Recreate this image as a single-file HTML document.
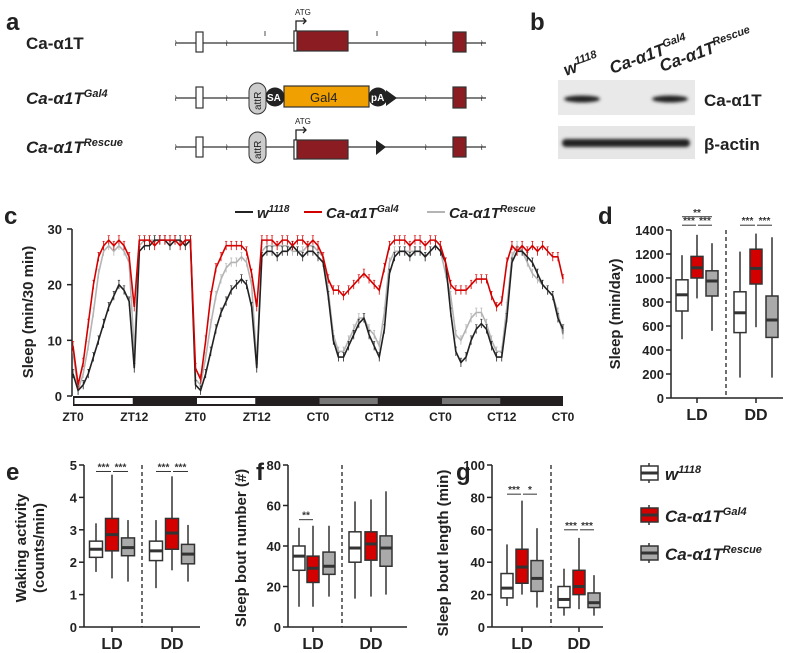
<!DOCTYPE html>
<html><head><meta charset="utf-8">
<style>
html,body{margin:0;padding:0;background:#fff;}
svg{display:block;font-family:"Liberation Sans",Arial,sans-serif;}
.b{font-weight:bold;}
</style></head>
<body>
<svg id="fig" width="787" height="653" viewBox="0 0 787 653" xmlns="http://www.w3.org/2000/svg">
<g class="b" font-size="24" fill="#222">
<text x="6" y="30">a</text>
<text x="530" y="30">b</text>
<text x="4" y="224">c</text>
<text x="598" y="224">d</text>
<text x="6" y="480">e</text>
<text x="256" y="480">f</text>
<text x="456" y="480">g</text>
</g>

<g>
<g class="b" font-size="17" fill="#222">
<text x="26" y="49">Ca-α1T</text>
<text x="26" y="104" font-style="italic">Ca-α1T<tspan font-size="11" dy="-7">Gal4</tspan></text>
<text x="26" y="153" font-style="italic">Ca-α1T<tspan font-size="11" dy="-7">Rescue</tspan></text>
</g>
<g stroke="#333" stroke-width="1.3" fill="none">
<line x1="176" y1="43" x2="486" y2="43"/><line x1="176" y1="98" x2="486" y2="98"/><line x1="176" y1="147" x2="486" y2="147"/>
</g>
<g font-size="9" fill="#333">
<text x="174" y="46">≀</text><text x="225" y="46">≀</text><text x="424" y="46">≀</text><text x="480" y="46">≀</text>
<text x="174" y="101">≀</text><text x="225" y="101">≀</text><text x="424" y="101">≀</text><text x="480" y="101">≀</text>
<text x="174" y="150">≀</text><text x="225" y="150">≀</text><text x="424" y="150">≀</text><text x="480" y="150">≀</text>
</g>
<g stroke="#333" stroke-width="1.2">
<rect x="196" y="32" width="7" height="20" fill="#fff"/>
<rect x="196" y="87" width="7" height="21" fill="#fff"/>
<rect x="196" y="137" width="7" height="20" fill="#fff"/>
<rect x="294" y="31" width="54" height="20" fill="#8b1c22"/>
<rect x="294" y="31" width="3" height="20" fill="#fff"/>
<rect x="294" y="140" width="54" height="19" fill="#8b1c22"/>
<rect x="294" y="140" width="3" height="19" fill="#fff"/>
<rect x="453" y="32" width="13" height="20" fill="#8b1c22"/>
<rect x="453" y="87" width="13" height="21" fill="#8b1c22"/>
<rect x="453" y="137" width="13" height="20" fill="#8b1c22"/>
<rect x="284" y="86" width="85" height="21" fill="#f0a000"/>
</g>
<rect x="249" y="83" width="17" height="31" rx="8.5" fill="#ccc" stroke="#333" stroke-width="1"/>
<rect x="249" y="132" width="17" height="31" rx="8.5" fill="#ccc" stroke="#333" stroke-width="1"/>
<text transform="translate(261,110) rotate(-90)" font-size="10" fill="#222">attR</text>
<text transform="translate(261,159) rotate(-90)" font-size="10" fill="#222">attR</text>
<circle cx="275" cy="97" r="9.5" fill="#222"/>
<text x="267" y="101" font-size="10" class="b" fill="#fff">SA</text>
<circle cx="378" cy="97" r="9.5" fill="#222"/>
<text x="371" y="101" font-size="10" class="b" fill="#fff">pA</text>
<polygon points="386,90 397,98 386,106" fill="#222"/>
<polygon points="376,140 386,147 376,155" fill="#222"/>
<text x="310" y="102" font-size="13" fill="#222">Gal4</text>
<g stroke="#222" stroke-width="1.3" fill="none">
<polyline points="296,31 296,21 306,21"/><polyline points="303,18 306,21 303,24"/>
<polyline points="296,140 296,130 306,130"/><polyline points="303,127 306,130 303,133"/>
<line x1="265" y1="31" x2="265" y2="36" stroke-width="0.8"/><line x1="377" y1="31" x2="377" y2="36" stroke-width="0.8"/>
</g>
<text x="295" y="15" font-size="8" fill="#222">ATG</text>
<text x="295" y="124" font-size="8" fill="#222">ATG</text>
</g>

<g>
<defs>
<filter id="blur1"><feGaussianBlur stdDeviation="1.6"/></filter>
</defs>
<rect x="558" y="80" width="137" height="35" fill="#e9e9e9"/>
<rect x="558" y="126" width="137" height="33" fill="#e6e6e6"/>
<g filter="url(#blur1)" fill="#222">
<ellipse cx="582" cy="99" rx="18" ry="3.5"/>
<ellipse cx="670" cy="99" rx="18" ry="3.5"/>
<rect x="562" y="139" width="128" height="8" rx="4"/>
</g>
<g class="b" font-size="17" fill="#222">
<text x="704" y="106">Ca-α1T</text>
<text x="704" y="150">β-actin</text>
</g>
<g class="b" font-style="italic" font-size="17" fill="#222">
<text transform="translate(566,76) rotate(-20)">w<tspan font-size="11" dy="-7">1118</tspan></text>
<text transform="translate(612,74) rotate(-20)">Ca-α1T<tspan font-size="11" dy="-7">Gal4</tspan></text>
<text transform="translate(662,72) rotate(-20)">Ca-α1T<tspan font-size="11" dy="-7">Rescue</tspan></text>
</g>
</g>

<g id="chartC"></g>
<g id="boxes"></g>

<g>
<g stroke="#333" stroke-width="1.5">
<line x1="649" y1="463" x2="649" y2="483"/><rect x="641" y="466" width="17" height="14" fill="#fff"/><line x1="641" y1="473" x2="658" y2="473" stroke-width="3"/>
<line x1="649" y1="505" x2="649" y2="525"/><rect x="641" y="508" width="17" height="14" fill="#d40000"/><line x1="641" y1="515" x2="658" y2="515" stroke-width="3"/>
<line x1="649" y1="543" x2="649" y2="563"/><rect x="641" y="546" width="17" height="14" fill="#aaa"/><line x1="641" y1="553" x2="658" y2="553" stroke-width="3"/>
</g>
<g class="b" font-style="italic" font-size="17" fill="#222">
<text x="665" y="480">w<tspan font-size="11" dy="-7">1118</tspan></text>
<text x="665" y="522">Ca-α1T<tspan font-size="11" dy="-7">Gal4</tspan></text>
<text x="665" y="560">Ca-α1T<tspan font-size="11" dy="-7">Rescue</tspan></text>
</g>
</g>
</svg>

<script>
const ticksC = [0, 10, 20, 30];
const xLabelsC = ["ZT0","ZT12","ZT0","ZT12","CT0","CT12","CT0","CT12","CT0"];
const sleepW1118 = [4,1,2,4,7,10,13,16,18,20,19,17,5,26,27,27,28,28,28,27,28,28,27,28,
 2,1,4,8,12,15,17,19,20,21,20,16,5,25,26,26,25,26,26,27,26,25,26,26,
 25,24,18,10,7,7,9,11,13,14,11,9,7,12,22,25,26,26,25,26,26,25,26,27,
 26,24,15,8,6,7,10,12,13,12,9,7,7,14,24,26,26,25,24,22,20,19,18,14,12];
const sleepGal4 = [9,2,6,13,20,25,27,28,27,28,27,25,16,28,28,28,27,28,28,28,28,27,28,28,
 5,3,10,18,23,25,27,27,27,27,26,22,16,28,28,28,27,28,28,27,28,28,27,28,
 27,25,21,19,19,18,19,20,21,22,21,20,19,23,27,28,28,28,27,28,28,27,28,28,
 27,24,20,19,19,19,20,21,21,21,18,16,17,24,27,26,27,26,27,26,27,26,25,25,21];
const sleepRescue = [8,1,4,9,15,22,26,27,26,27,26,24,8,27,28,28,28,28,28,28,28,27,28,28,
 3,2,7,13,18,21,23,24,24,25,24,20,6,26,27,27,27,27,27,26,26,26,27,27,
 26,25,19,11,8,8,10,12,14,14,12,11,9,15,24,26,26,26,26,26,26,25,26,27,
 26,22,18,11,10,12,14,15,15,13,10,8,8,16,25,27,26,24,22,21,20,19,18,15,11];
const semC = 0.8;

const dTicks = [0,200,400,600,800,1000,1200,1400];
const dBoxes = [[490,725,860,985,1190],[830,1000,1085,1180,1360],[560,850,975,1060,1290],
                [170,545,710,885,1220],[590,950,1080,1240,1370],[170,505,650,850,1340]];
const eTicks = [0,1,2,3,4,5];
const eBoxes = [[1.7,2.15,2.4,2.65,3.2],[1.5,2.35,2.85,3.35,4.7],[1.4,2.2,2.45,2.75,3.3],
                [1.2,2.05,2.35,2.65,3.3],[1.75,2.4,2.9,3.35,4.65],[1.4,1.95,2.25,2.55,3.15]];
const fTicks = [0,20,40,60,80];
const fBoxes = [[10,28,35,40,49],[10,22,29,35,50],[15,26,30,37,50],
                [14,32,39,47,62],[15,33,41,47,63],[16,30,39,45,67]];
const gTicks = [0,20,40,60,80,100];
const gBoxes = [[13,18,24,33,51],[20,27,37,48,78],[12,22,30,41,61],
                [7,12,17,25,36],[11,20,25,35,55],[7,12,15,21,32]];

const NS = "http://www.w3.org/2000/svg";
function mk(tag, attrs, parent){const e=document.createElementNS(NS,tag);for(const k in attrs)e.setAttribute(k,attrs[k]);parent.appendChild(e);return e;}

(function(){
 const g = document.getElementById('chartC');
 const x0=73, x1=563, y0=396, yTop=229, vmax=30;
 const n = sleepW1118.length-1;
 const xC = i => x0 + i*(x1-x0)/n;
 const yC = v => y0 - v*(y0-yTop)/vmax;
 mk('line',{x1:72,y1:yC(30),x2:72,y2:y0,stroke:'#222','stroke-width':1.5},g);
 ticksC.forEach(t=>{
  mk('line',{x1:67,y1:yC(t),x2:72,y2:yC(t),stroke:'#222','stroke-width':1.5},g);
  const tx=mk('text',{x:62,y:yC(t)+5,'text-anchor':'end','font-size':13,'font-weight':'bold',fill:'#222'},g);
  tx.textContent=t;
  
  
 });
 const yl=mk('text',{transform:'translate(33,312) rotate(-90)','text-anchor':'middle','font-size':15,'font-weight':'bold',fill:'#222'},g);
 yl.textContent='Sleep (min/30 min)';
 
 
 const segCols=['#fff','#231f20','#fff','#231f20','#777','#231f20','#777','#231f20'];
 const seg=(x1-x0)/8;
 mk('rect',{x:x0,y:396,width:x1-x0,height:10,fill:'#231f20'},g);
 segCols.forEach((c,i)=>{ if(c!=='#231f20'){const r=mk('rect',{x:x0+i*seg+1.5,y:398,width:seg-3,height:6,fill:c},g);
  
  }});
 xLabelsC.forEach((l,i)=>{
  const t=mk('text',{x:x0+i*seg,y:421,'text-anchor':'middle','font-size':12,'font-weight':'bold',fill:'#222'},g);
  t.textContent=l;
  
  
 });
 function series(arr,col,name){
  const sg=mk('g',{},g);
  
  
  arr.forEach((v,i)=>{
   mk('line',{x1:xC(i),y1:yC(v+semC),x2:xC(i),y2:yC(v-semC),stroke:col,'stroke-width':0.8},sg);
   mk('line',{x1:xC(i)-1.2,y1:yC(v+semC),x2:xC(i)+1.2,y2:yC(v+semC),stroke:col,'stroke-width':0.6},sg);
  });
  const p=mk('polyline',{points:arr.map((v,i)=>xC(i)+','+yC(v)).join(' '),fill:'none',stroke:col,'stroke-width':1.6},sg);
  
  
 }
 series(sleepRescue,'#b4b4b4','series-rescue');
 series(sleepW1118,'#222','series-w1118');
 series(sleepGal4,'#d40000','series-gal4');
 const lg=mk('g',{},g);
 
 
 [[235,'#222','w','1118'],[304,'#d40000','Ca-α1T','Gal4'],[427,'#b4b4b4','Ca-α1T','Rescue']].forEach(d=>{
  mk('line',{x1:d[0],y1:212,x2:d[0]+18,y2:212,stroke:d[1],'stroke-width':2},lg);
  const t=mk('text',{x:d[0]+22,y:218,'font-size':15,'font-weight':'bold','font-style':'italic',fill:'#222'},lg);
  t.textContent=d[2];
  const s=mk('tspan',{'font-size':10,dy:-6},t); s.textContent=d[3];
  
  
 });
})();

const boxFills=['#fff','#d40000','#aaa'];
function boxPanel(cfg){
 const root=document.getElementById('boxes');
 const g=mk('g',{},root);
 
 
 const y=v=>cfg.y0-(v-0)*(cfg.y0-cfg.yTop)/cfg.vmax;
 mk('line',{x1:cfg.ax,y1:cfg.yTop,x2:cfg.ax,y2:cfg.y0,stroke:'#222','stroke-width':1.5},g);
 mk('line',{x1:cfg.ax,y1:cfg.y0,x2:cfg.axEnd,y2:cfg.y0,stroke:'#222','stroke-width':1.5},g);
 cfg.ticks.forEach(t=>{
  mk('line',{x1:cfg.ax-5,y1:y(t),x2:cfg.ax,y2:y(t),stroke:'#222','stroke-width':1.5},g);
  const tx=mk('text',{x:cfg.ax-7,y:y(t)+5,'text-anchor':'end','font-size':13,'font-weight':'bold',fill:'#222'},g);
  tx.textContent=t;
  
  
 });
 mk('line',{x1:cfg.dash,y1:cfg.yTop,x2:cfg.dash,y2:cfg.y0,stroke:'#222','stroke-width':1.3,'stroke-dasharray':'4,3'},g);
 [['LD',cfg.cx[1]],['DD',cfg.cx[4]]].forEach(d=>{
  mk('line',{x1:d[1],y1:cfg.y0,x2:d[1],y2:cfg.y0+5,stroke:'#222','stroke-width':1.5},g);
  const t=mk('text',{x:d[1],y:cfg.y0+22,'text-anchor':'middle','font-size':16,'font-weight':'bold',fill:'#222'},g);
  t.textContent=d[0];
  
  
 });
 cfg.boxes.forEach((b,i)=>{
  const cx=cfg.cx[i], w=cfg.w;
  const bg=mk('g',{},g);
  
  
  mk('line',{x1:cx,y1:y(b[0]),x2:cx,y2:y(b[4]),stroke:'#333','stroke-width':1.5},bg);
  mk('rect',{x:cx-w/2,y:y(b[3]),width:w,height:y(b[1])-y(b[3]),fill:boxFills[i%3],stroke:'#333','stroke-width':1.5},bg);
  mk('line',{x1:cx-w/2,y1:y(b[2]),x2:cx+w/2,y2:y(b[2]),stroke:'#333','stroke-width':3},bg);
 });
 cfg.sig.forEach(s=>{
  mk('line',{x1:s[0],y1:y(s[2]),x2:s[1],y2:y(s[2]),stroke:'#333','stroke-width':1},g);
  const t=mk('text',{x:(s[0]+s[1])/2,y:y(s[2])-1,'text-anchor':'middle','font-size':10,'font-weight':'bold',fill:'#333'},g);
  t.textContent=s[3];
  
  
 });
 const yl=mk('text',{transform:'translate('+cfg.lx+','+cfg.ly+') rotate(-90)','text-anchor':'middle','font-size':15,'font-weight':'bold',fill:'#222'},g);
 yl.textContent=cfg.title;
 
 
 if(cfg.title2){const y2=mk('text',{transform:'translate('+(cfg.lx+18)+','+cfg.ly+') rotate(-90)','text-anchor':'middle','font-size':15,'font-weight':'bold',fill:'#222'},g);
  y2.textContent=cfg.title2;
  
  }
}
boxPanel({name:'panel-d-sleep-per-day',ax:671,axEnd:783,y0:398,yTop:230,vmax:1400,ticks:dTicks,boxes:dBoxes,
 cx:[682,697,712,740,756,772],w:12,dash:726,
 sig:[[682,712,1510,'**'],[682,696,1440,'***'],[698,712,1440,'***'],[740,755,1440,'***'],[757,772,1440,'***']],
 lx:620,ly:314,title:'Sleep (min/day)'});
boxPanel({name:'panel-e-waking-activity',ax:84,axEnd:200,y0:627,yTop:465,vmax:5,ticks:eTicks,boxes:eBoxes,
 cx:[96,112,128,156,172,188],w:13,dash:142,
 sig:[[96,111,4.8,'***'],[113,128,4.8,'***'],[156,171,4.8,'***'],[173,188,4.8,'***']],
 lx:26,ly:548,title:'Waking activity',title2:'(counts/min)'});
boxPanel({name:'panel-f-sleep-bout-number',ax:288,axEnd:407,y0:627,yTop:465,vmax:80,ticks:fTicks,boxes:fBoxes,
 cx:[299,313,329,355,371,386],w:12,dash:342,
 sig:[[299,313,53,'**']],
 lx:246,ly:548,title:'Sleep bout number (#)'});
boxPanel({name:'panel-g-sleep-bout-length',ax:492,axEnd:603,y0:627,yTop:465,vmax:100,ticks:gTicks,boxes:gBoxes,
 cx:[507,522,537,564,579,594],w:12,dash:551,
 sig:[[507,521,82,'***'],[523,537,82,'*'],[564,578,60,'***'],[580,594,60,'***']],
 lx:448,ly:553,title:'Sleep bout length (min)'});
</script>
</body></html>
